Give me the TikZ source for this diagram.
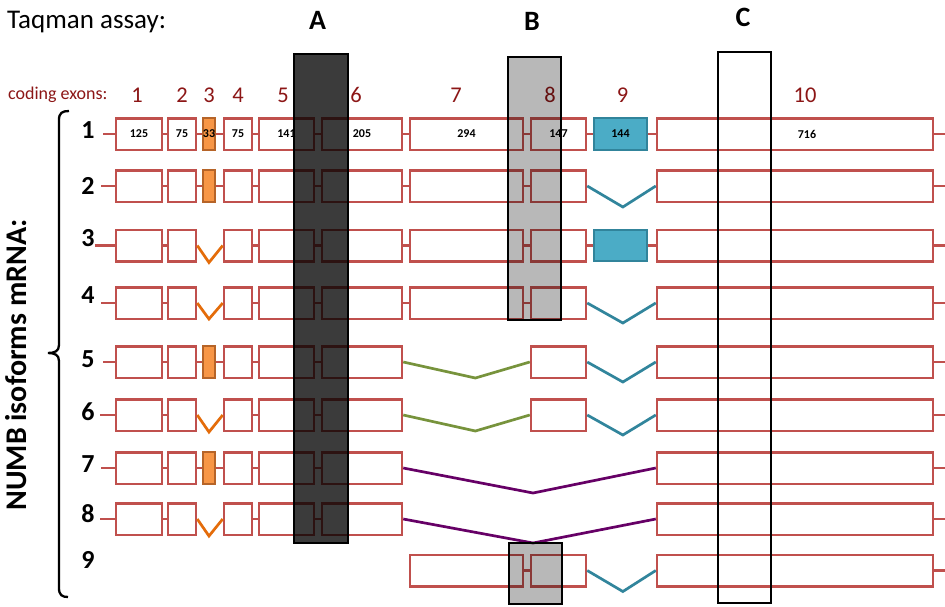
\documentclass[tikz,border=0pt]{standalone}
\usepackage{fontspec}
\setmainfont{Carlito}
\usetikzlibrary{calc}

\definecolor{exred}{RGB}{192,80,77}
\definecolor{exnum}{RGB}{140,22,22}
\definecolor{orfill}{RGB}{247,150,70}
\definecolor{ordraw}{RGB}{182,100,40}
\definecolor{orline}{RGB}{228,108,10}
\definecolor{blfill}{RGB}{75,172,198}
\definecolor{bldraw}{RGB}{49,132,155}
\definecolor{blline}{RGB}{49,133,156}
\definecolor{grline}{RGB}{119,147,60}
\definecolor{puline}{RGB}{102,0,102}

\tikzset{
  exonbox/.style={draw=exred, line width=2.5pt, fill=white, rectangle, inner sep=0pt,
    minimum height=31.5pt, font=\bfseries\fontsize{12}{12}\selectfont},
  altthree/.style={fill=orfill, draw=ordraw, line width=1.8pt},
  altnine/.style={fill=blfill, draw=bldraw, line width=1.8pt},
  intron/.style={draw=exred, line width=2.5pt},
  skipthree/.style={draw=orline, line width=2.7pt},
  skipnine/.style={draw=blline, line width=2.7pt},
  skipseven/.style={draw=grline, line width=2.7pt},
  skiplong/.style={draw=puline, line width=2.7pt},
  rowlabel/.style={font=\bfseries\fontsize{26}{26}\selectfont, inner sep=0pt},
  exonnum/.style={text=exnum, font=\fontsize{22.5}{22.5}\selectfont, anchor=base, inner sep=0pt},
  assaylabel/.style={font=\bfseries\fontsize{28}{28}\selectfont, inner sep=0pt},
  probebox/.style={draw=black, line width=2.5pt},
  brace/.style={draw=black, line width=2.3pt}
}

% exon borders along the gene (x in px)
\def\exLeft{{0,116,168,203,224,259,322,410,531,594,657}}
\def\exRight{{0,162,196,215,252,314,402,523,586,647,933}}

% \exon[style]{row}{exon}{y}{text}
\newcommand\exon[5][]{%
  \pgfmathsetmacro\exXl{\exLeft[#3]}%
  \pgfmathsetmacro\exXr{\exRight[#3]}%
  \node[exonbox,#1,minimum width={(\exXr-\exXl)*1pt}] (r#2e#3) at ({(\exXl+\exXr)/2},#4) {#5};}
% intron line between two neighbouring exons of a row
\newcommand\intr[3]{\draw[intron] (r#1e#2.east) -- (r#1e#3.west);}
% skipped exon(s): V-shaped splice line
\newcommand\splice[6]{\draw[#1] (r#2e#3.east) -- ($(r#2e#3.east)!#5!(r#2e#4.west)+(0,#6)$) -- (r#2e#4.west);}
% stubs at both row ends
\newcommand\stubs[3]{%
  \coordinate (r#1L) at (#2,#3);
  \coordinate (r#1R) at (945,#3);
  \draw[intron] (r#1L) -- (r#1e1.west);
  \draw[intron] (r#1e10.east) -- (r#1R);}

\begin{document}
\begin{tikzpicture}[x=1pt,y=-1pt]
\useasboundingbox (0,0) rectangle (945,606);
\fill[white] (0,0) rectangle (945,606);

% headings
\node[anchor=base west, inner sep=0pt, font=\fontsize{27}{27}\selectfont] (title) at (7,28.3) {Taqman assay:};
\node[anchor=base west, inner sep=0pt, text=exnum, font=\fontsize{18}{18}\selectfont] (coding) at (8,99.5) {coding exons:};
\foreach \n/\x in {1/137,2/182,3/209,4/238,5/283,6/356,7/456,8/550,9/622.5,10/805}
  \node[exonnum] (num\n) at (\x,102.7) {\n};

% isoform numbers and bracket
\foreach \n/\y in {1/130,2/186,3/238,4/295,5/359,6/412,7/464,8/514,9/560}
  \node[rowlabel] (lab\n) at (88,\y) {\n};
\node[rotate=90, anchor=base, inner sep=0pt, font=\bfseries\fontsize{30}{30}\selectfont] (isoforms) at (27,365) {NUMB isoforms mRNA:};
\draw[brace] (69,111) .. controls (62,111) and (59,113) .. (59,120) -- (59,345)
  .. controls (59,351) and (55,353) .. (48,353)
  .. controls (55,353) and (59,355) .. (59,361) -- (59,588)
  .. controls (59,595) and (62,597) .. (68,597);

% isoform 1
\exon{1}{1}{134}{125} \exon{1}{2}{134}{75} \exon[altthree]{1}{3}{134}{33}
\exon{1}{4}{134}{75} \exon{1}{5}{134}{141} \exon{1}{6}{134}{205}
\exon{1}{7}{134}{294} \exon{1}{8}{134}{147} \exon[altnine]{1}{9}{134}{144}
\exon{1}{10}{134}{}
\node[font=\bfseries\fontsize{12}{12}\selectfont, inner sep=0pt] (r1t10) at (807,134) {716};
\stubs{1}{103}{134}
\foreach \a/\b in {1/2,2/3,3/4,4/5,5/6,6/7,7/8,8/9,9/10} {\intr{1}{\a}{\b}}

% isoform 2
\foreach \k in {1,2,4,5,6,7,8,10} {\exon{2}{\k}{186}{}}
\exon[altthree]{2}{3}{186}{}
\stubs{2}{101}{186}
\foreach \a/\b in {1/2,2/3,3/4,4/5,5/6,6/7,7/8} {\intr{2}{\a}{\b}}
\splice{skipnine}{2}{8}{10}{0.52}{21}

% isoform 3
\foreach \k in {1,2,4,5,6,7,8,10} {\exon{3}{\k}{245.5}{}}
\exon[altnine]{3}{9}{245.5}{}
\stubs{3}{95}{245.5}
\foreach \a/\b in {1/2,4/5,5/6,6/7,7/8,8/9,9/10} {\intr{3}{\a}{\b}}
\splice{skipthree}{3}{2}{4}{0.46}{17}

% isoform 4
\foreach \k in {1,2,4,5,6,7,8,10} {\exon{4}{\k}{303}{}}
\stubs{4}{101}{303}
\foreach \a/\b in {1/2,4/5,5/6,6/7,7/8} {\intr{4}{\a}{\b}}
\splice{skipthree}{4}{2}{4}{0.46}{16}
\splice{skipnine}{4}{8}{10}{0.52}{20}

% isoform 5
\foreach \k in {1,2,4,5,6,8,10} {\exon{5}{\k}{362}{}}
\exon[altthree]{5}{3}{362}{}
\stubs{5}{103}{362}
\foreach \a/\b in {1/2,2/3,3/4,4/5,5/6} {\intr{5}{\a}{\b}}
\splice{skipseven}{5}{6}{8}{0.57}{16}
\splice{skipnine}{5}{8}{10}{0.52}{20}

% isoform 6
\foreach \k in {1,2,4,5,6,8,10} {\exon{6}{\k}{415}{}}
\stubs{6}{100}{415}
\foreach \a/\b in {1/2,4/5,5/6} {\intr{6}{\a}{\b}}
\splice{skipthree}{6}{2}{4}{0.46}{17}
\splice{skipseven}{6}{6}{8}{0.57}{16}
\splice{skipnine}{6}{8}{10}{0.52}{20}

% isoform 7
\foreach \k in {1,2,4,5,6,10} {\exon{7}{\k}{468}{}}
\exon[altthree]{7}{3}{468}{}
\stubs{7}{101}{468}
\foreach \a/\b in {1/2,2/3,3/4,4/5,5/6} {\intr{7}{\a}{\b}}
\splice{skiplong}{7}{6}{10}{0.514}{25}

% isoform 8
\foreach \k in {1,2,4,5,6,10} {\exon{8}{\k}{519}{}}
\stubs{8}{100}{519}
\foreach \a/\b in {1/2,4/5,5/6} {\intr{8}{\a}{\b}}
\splice{skipthree}{8}{2}{4}{0.46}{17}
\splice{skiplong}{8}{6}{10}{0.514}{24}

% isoform 9
\foreach \k in {7,8,10} {\exon{9}{\k}{570.5}{}}
\coordinate (r9R) at (945,570.5);
\draw[intron] (r9e10.east) -- (r9R);
\intr{9}{7}{8}
\splice{skipnine}{9}{8}{10}{0.52}{21}

% Taqman probe regions
\filldraw[probebox, fill=black, fill opacity=0.77] (294,54) rectangle (348,543);
\filldraw[probebox, fill=black, fill opacity=0.28] (508,57) rectangle (561,320);
\filldraw[probebox, fill=black, fill opacity=0.28] (509,543) rectangle (562,604);
\draw[probebox] (718,52) rectangle (771,603);
\node[assaylabel] (labA) at (317.5,20) {A};
\node[assaylabel] (labB) at (532,21) {B};
\node[assaylabel] (labC) at (743,17) {C};
\end{tikzpicture}
\end{document}
